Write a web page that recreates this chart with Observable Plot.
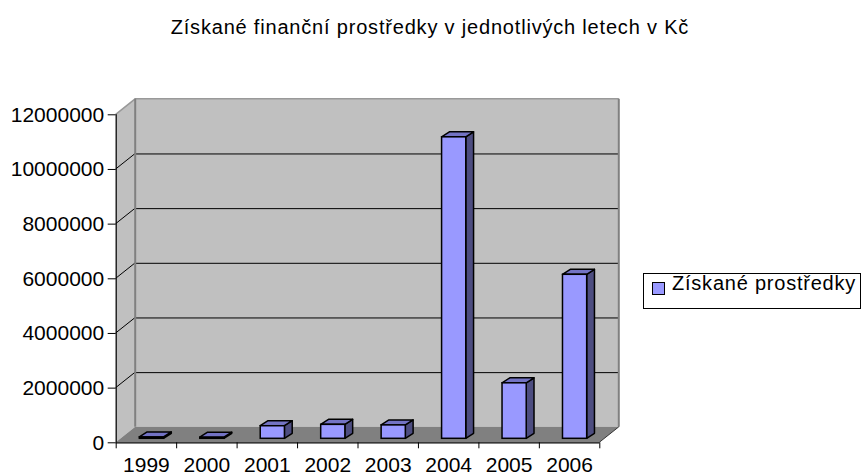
<!DOCTYPE html>
<html>
<head>
<meta charset="utf-8">
<script src="https://cdn.jsdelivr.net/npm/d3@7"></script>
<script src="https://cdn.jsdelivr.net/npm/@observablehq/plot@0.6"></script>
<style>
  html, body { margin: 0; padding: 0; background: #fff; }
  #chart { position: relative; width: 861px; height: 476px; overflow: hidden;
           font-family: "Liberation Sans", Arial, sans-serif; color: #000; }
  #title { position: relative; height: 50px; }
  #title span { position: absolute; left: 170.7px; top: 17.1px; font-size: 20px; line-height: 20px; white-space: nowrap; }
  #legend { position: absolute; left: 643px; top: 273px; width: 218px; height: 36px;
            box-sizing: border-box; border: 1px solid #000; background: #fff; }
  #legend .sw { position: absolute; left: 8px; top: 8px; width: 13px; height: 13px; box-sizing: border-box;
                background: #9999ff; border: 1.5px solid #000; }
  #legend .lt { position: absolute; left: 28px; top: -1.4px; font-size: 20px; line-height: 20px; white-space: nowrap; }
  svg { display: block; }
</style>
</head>
<body>
<div id="chart">
  <div id="title"><span></span></div>
  <div id="plot"></div>
  <div id="legend"><div class="sw"></div><span class="lt"></span></div>
</div>
<script>
// ---- data ----
const years = ["1999", "2000", "2001", "2002", "2003", "2004", "2005", "2006"];
const values = [50000, 40000, 460000, 510000, 490000, 11030000, 2030000, 6000000];
const yTicks = [0, 2000000, 4000000, 6000000, 8000000, 10000000, 12000000];
const titleText = "Získané finanční prostředky v jednotlivých letech v Kč";
const seriesName = "Získané prostředky";

// ---- style / geometry ----
const WALL = [19.5, -15.5];     // depth offset of back plane (px)
const BAR_F = [5.5, -4];        // bar front face offset (px)
const BAR_B = [13.3, -9];       // bar back face offset (px)
const BAR_W = 0.4;              // bar width as fraction of band
const FRONT = "#9999ff", TOP = "#7373c4", SIDE = "#4d4d80";
const maxY = d3.max(yTicks);
const n = years.length;

const pts = a => a.map(p => p.join(",")).join(" ");

function walls(index, {x, y}) {
  const g = d3.create("svg:g");
  const [dx, dy] = WALL;
  const x0 = x(0), x1 = x(n), y0 = y(0), yT = y(maxY);
  g.append("polygon").attr("points", pts([[x0 + dx, yT + dy], [x1 + dx, yT + dy], [x1 + dx, y0 + dy], [x0 + dx, y0 + dy]])).attr("fill", "#c0c0c0");
  g.append("polygon").attr("points", pts([[x0, yT], [x0 + dx, yT + dy], [x0 + dx, y0 + dy], [x0, y0]])).attr("fill", "#c0c0c0");
  g.append("polygon").attr("points", pts([[x0, y0], [x0 + dx, y0 + dy], [x1 + dx, y0 + dy], [x1, y0]])).attr("fill", "#808080");
  for (const v of yTicks.filter(v => v > 0 && v < maxY)) {
    g.append("line").attr("x1", x0).attr("y1", y(v)).attr("x2", x0 + dx).attr("y2", y(v) + dy)
      .attr("stroke", "#000").attr("stroke-width", 1);
  }
  return g.node();
}

function outlines(index, {x, y}) {
  const g = d3.create("svg:g").attr("fill", "none");
  const [dx, dy] = WALL;
  const x0 = x(0), x1 = x(n), y0 = y(0), yT = y(maxY);
  g.append("polyline").attr("points", pts([[x0, yT], [x0 + dx, yT + dy], [x1 + dx, yT + dy]]))
    .attr("stroke", "#999").attr("stroke-width", 1.5);
  g.append("line").attr("x1", x0 + dx).attr("y1", yT + dy).attr("x2", x0 + dx).attr("y2", y0 + dy)
    .attr("stroke", "#808080").attr("stroke-width", 2);
  g.append("line").attr("x1", x1 + dx).attr("y1", yT + dy).attr("x2", x1 + dx).attr("y2", y0 + dy)
    .attr("stroke", "#808080").attr("stroke-width", 2);
  g.append("line").attr("x1", x1).attr("y1", y0).attr("x2", x1 + dx).attr("y2", y0 + dy)
    .attr("stroke", "#333").attr("stroke-width", 1);
  return g.node();
}

function barSides(index, {x, y}) {
  const g = d3.create("svg:g").attr("stroke", "#000").attr("stroke-width", 1.5).attr("stroke-linejoin", "round");
  const ddx = BAR_B[0] - BAR_F[0], ddy = BAR_B[1] - BAR_F[1];
  values.forEach((v, i) => {
    const xl = x(i + (1 - BAR_W) / 2) + BAR_F[0], xr = x(i + (1 + BAR_W) / 2) + BAR_F[0];
    const yb = y(0) + BAR_F[1], yt = y(v) + BAR_F[1];
    g.append("polygon").attr("points", pts([[xr, yt], [xr + ddx, yt + ddy], [xr + ddx, yb + ddy], [xr, yb]])).attr("fill", SIDE);
    g.append("polygon").attr("points", pts([[xl, yt], [xl + ddx, yt + ddy], [xr + ddx, yt + ddy], [xr, yt]])).attr("fill", TOP);
  });
  return g.node();
}

const plot = Plot.plot({
  width: 861,
  height: 426,
  marginLeft: 115.7,
  marginRight: 261.7,
  marginTop: 64.3,
  marginBottom: 33.7,
  x: {type: "linear", domain: [0, n], label: null},
  y: {type: "linear", domain: [0, maxY], label: null},
  style: {fontFamily: "'Liberation Sans', Arial, sans-serif", fontSize: "21px", color: "#000", background: "transparent", overflow: "visible"},
  marks: [
    walls,
    Plot.ruleY(yTicks.filter(v => v > 0 && v < maxY), {dx: WALL[0], dy: WALL[1], stroke: "#000", strokeWidth: 1}),
    outlines,
    barSides,
    Plot.rect(values, {
      x1: (d, i) => i + (1 - BAR_W) / 2,
      x2: (d, i) => i + (1 + BAR_W) / 2,
      y1: 0, y2: d => d,
      dx: BAR_F[0], dy: BAR_F[1],
      fill: FRONT, stroke: "#000", strokeWidth: 1.5
    }),
    Plot.ruleX([0], {stroke: "#000", strokeWidth: 1.2}),
    Plot.ruleY([0], {stroke: "#000", strokeWidth: 1.2}),
    Plot.axisY(yTicks, {tickSize: 8, tickPadding: 4, tickFormat: d3.format("d"), label: null, stroke: "#000"}),
    Plot.axisX(d3.range(n + 1), {tickSize: 6, tickFormat: () => "", label: null, stroke: "#000"}),
    Plot.axisX(d3.range(n).map(i => i + 0.5), {tickSize: 0, tickPadding: 14.5, tickFormat: d => years[Math.floor(d)], label: null})
  ]
});
document.getElementById("plot").appendChild(plot);

const t = document.querySelector("#title span");
t.textContent = titleText;
const lt = document.querySelector("#legend .lt");
lt.textContent = seriesName;
function fit(el, target) {
  const w = el.getBoundingClientRect().width;
  const k = el.textContent.length;
  el.style.letterSpacing = ((target - w) / (k - 1)) + "px";
}
fit(t, 517.6);
fit(lt, 183.3);
</script>
</body>
</html>
